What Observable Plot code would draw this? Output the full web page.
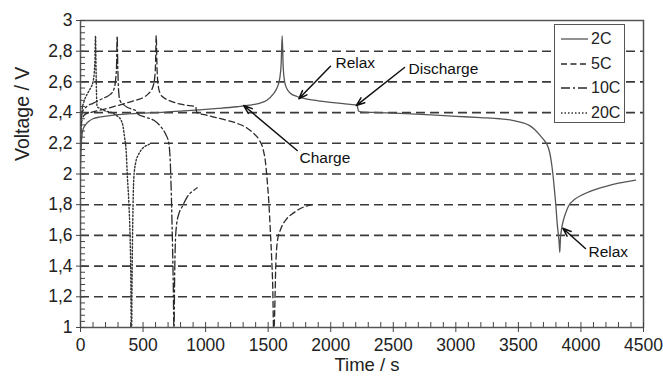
<!DOCTYPE html>
<html><head><meta charset="utf-8">
<script src="https://cdn.jsdelivr.net/npm/d3@7"></script>
<script src="https://cdn.jsdelivr.net/npm/@observablehq/plot@0.6"></script>
<style>
body{margin:0;background:#fff;font-family:"Liberation Sans",Arial,sans-serif;}
#wrap{position:relative;width:663px;height:380px;}
#legend{position:absolute;left:554px;top:24px;width:69px;height:97px;border:1.5px solid #555;background:#fff;}
.row{position:absolute;left:6px;height:20px;display:flex;align-items:center;font-size:16px;color:#222;}
.row svg{margin-right:3px;}
</style>
</head><body>
<div id="wrap"></div>
<script>
// ---- data (time in s, voltage in V) ----
const t2C = [0,8,20,40,70,100,160,250,360,500,650,800,950,1100,1250,1350,1430,1490,1540,1570,1592,1604,1612,1620,1632,1650,1680,1730,1800,1900,2000,2100,2200,2212,2222,2240,2400,2600,2800,3000,3200,3350,3450,3530,3590,3630,3670,3700,3730,3750,3765,3777,3790,3800,3810,3820,3826,3831,3836,3845,3860,3880,3900,3950,4000,4100,4200,4300,4436];
const v2C = [2.05,2.22,2.29,2.32,2.345,2.36,2.372,2.382,2.39,2.396,2.402,2.41,2.418,2.427,2.438,2.448,2.46,2.48,2.52,2.56,2.62,2.72,2.90,2.70,2.60,2.555,2.525,2.505,2.49,2.477,2.467,2.458,2.45,2.445,2.41,2.405,2.40,2.393,2.385,2.376,2.367,2.36,2.35,2.335,2.315,2.29,2.255,2.225,2.19,2.14,2.07,1.99,1.88,1.79,1.68,1.60,1.55,1.49,1.58,1.64,1.70,1.75,1.79,1.835,1.86,1.895,1.92,1.94,1.96];

const t5C = [0,8,20,40,100,200,293,400,460,506,545,575,592,600,605,612,622,640,670,720,800,870,920,930,1000,1120,1250,1330,1390,1430,1460,1478,1492,1505,1518,1528,1537,1543,1548,1552,1560,1575,1600,1650,1700,1770,1850];
const v5C = [2.25,2.33,2.37,2.39,2.405,2.425,2.445,2.47,2.485,2.50,2.525,2.56,2.62,2.72,2.90,2.68,2.57,2.52,2.495,2.475,2.455,2.445,2.44,2.40,2.385,2.36,2.33,2.30,2.26,2.22,2.16,2.08,1.96,1.82,1.62,1.45,1.25,1.0,1.0,1.1,1.38,1.57,1.64,1.71,1.745,1.78,1.80];

const t10C = [0,6,13,50,100,146,200,240,266,280,288,293,298,304,315,340,373,420,450,460,520,586,640,680,706,719,728,735,742,746,748,752,758,768,786,815,860,900,933];
const v10C = [2.25,2.34,2.40,2.44,2.46,2.48,2.50,2.52,2.55,2.61,2.70,2.90,2.70,2.55,2.48,2.455,2.435,2.42,2.41,2.39,2.37,2.35,2.31,2.26,2.20,2.05,1.80,1.55,1.25,1.0,1.0,1.3,1.55,1.67,1.74,1.79,1.86,1.89,1.91];

const t20C = [0,5,13,27,53,80,100,110,116,120,124,128,133,160,200,250,280,306,325,340,352,365,375,386,396,402,406,409,412,418,426,440,466,500,540,565];
const v20C = [2.15,2.33,2.42,2.47,2.52,2.56,2.60,2.66,2.75,2.90,2.70,2.52,2.44,2.425,2.41,2.40,2.385,2.37,2.35,2.31,2.24,2.15,1.98,1.82,1.60,1.35,1.0,1.0,1.3,1.7,1.97,2.07,2.13,2.17,2.19,2.20];

const seriesNames = ["2C","5C","10C","20C"];
const xTickValues = [0,500,1000,1500,2000,2500,3000,3500,4000,4500];
const xTickLabels = ["0","500","1000","1500","2000","2500","3000","3500","4000","4500"];
const yTickValues = [1,1.2,1.4,1.6,1.8,2,2.2,2.4,2.6,2.8,3];
const yTickLabels = ["1","1,2","1,4","1,6","1,8","2","2,2","2,4","2,6","2,8","3"];
const yGridValues = [1.2,1.4,1.6,1.8,2,2.2,2.4,2.6,2.8];

const annLabels = ["Relax","Discharge","Charge","Relax"];
const annTextX = [2038,2622,1750,4060];
const annTextY = [2.72,2.687,2.107,1.489];
const annFromX = [1998,2590,1732,4036];
const annFromY = [2.702,2.694,2.153,1.515];
const annToX = [1745,2204,1305,3855];
const annToY = [2.49,2.446,2.446,1.647];

// ---- build tables ----
const toRows = (ts, vs) => ts.map((t,i) => ({t, v: vs[i]}));
const series = [
  {name: seriesNames[0], rows: toRows(t2C, v2C), stroke: "#555", dash: null, w: 1.3},
  {name: seriesNames[1], rows: toRows(t5C, v5C), stroke: "#2a2a2a", dash: "6,3.5", w: 1.3},
  {name: seriesNames[2], rows: toRows(t10C, v10C), stroke: "#2a2a2a", dash: "9,3,2,3", w: 1.3},
  {name: seriesNames[3], rows: toRows(t20C, v20C), stroke: "#333", dash: "1.5,2", w: 1.4}
];
const ann = annLabels.map((label,i) => ({label, tx: annTextX[i], ty: annTextY[i], x1: annFromX[i], y1: annFromY[i], x2: annToX[i], y2: annToY[i]}));
const xMinor = d3.range(0, 4501, 100);
const yMinor = d3.range(0, 51).map(i => 1 + i * 0.04);

const chart = Plot.plot({
  width: 663, height: 380,
  marginLeft: 80, marginRight: 20, marginTop: 20, marginBottom: 53,
  x: {domain: [0, 4500]},
  y: {domain: [1, 3]},
  style: {fontFamily: "Liberation Sans, Arial, sans-serif", background: "#fff", color: "#222"},
  marks: [
    Plot.ruleY(yGridValues, {stroke: "#3a3a3a", strokeWidth: 1.6, strokeDasharray: "9,5"}),
    ...series.map(s => Plot.line(s.rows, {x: "t", y: "v", stroke: s.stroke, strokeWidth: s.w, strokeDasharray: s.dash, curve: "monotone-x", clip: true})),
    Plot.arrow(ann, {x1: "x1", y1: "y1", x2: "x2", y2: "y2", stroke: "#111", strokeWidth: 1.5, headLength: 9, headAngle: 40}),
    Plot.text(ann, {x: "tx", y: "ty", text: "label", textAnchor: "start", fontSize: 15.5, fill: "#111"}),
    Plot.frame({stroke: "#555", strokeWidth: 1.5}),
    Plot.axisX(xMinor, {tickSize: -5, fill: "none", label: null, stroke: "#444"}),
    Plot.axisX(xTickValues, {tickSize: 5, tickPadding: 6, fontSize: 17.5, label: null, stroke: "#444", fill: "#222",
      tickFormat: d => xTickLabels[xTickValues.indexOf(d)]}),
    Plot.axisY(yMinor, {tickSize: -5, fill: "none", label: null, stroke: "#444"}),
    Plot.axisY(yTickValues, {tickSize: 4, tickPadding: 4, fontSize: 17.5, label: null, stroke: "#444", fill: "#222",
      tickFormat: d => yTickLabels[yTickValues.indexOf(d)]}),
    Plot.text(["Time / s"], {text: d => d, frameAnchor: "bottom", dy: 43, dx: 5, fontSize: 18.5, fill: "#222"}),
    Plot.text(["Voltage / V"], {text: d => d, frameAnchor: "left", rotate: -90, dx: -58, dy: -13, fontSize: 19.5, fill: "#222"})
  ]
});
const wrap = document.getElementById("wrap");
wrap.appendChild(chart);

// ---- legend ----
const legend = document.createElement("div");
legend.id = "legend";
const rowTops = [4, 29, 53, 78];
series.forEach((s, i) => {
  const row = document.createElement("div");
  row.className = "row";
  row.style.top = rowTops[i] + "px";
  const ns = "http://www.w3.org/2000/svg";
  const svg = document.createElementNS(ns, "svg");
  svg.setAttribute("width", "27"); svg.setAttribute("height", "4");
  const ln = document.createElementNS(ns, "line");
  ln.setAttribute("x1", "0"); ln.setAttribute("x2", "27"); ln.setAttribute("y1", "2"); ln.setAttribute("y2", "2");
  ln.setAttribute("stroke", s.stroke); ln.setAttribute("stroke-width", s.w);
  if (s.dash) ln.setAttribute("stroke-dasharray", s.dash);
  svg.appendChild(ln);
  row.appendChild(svg);
  const sp = document.createElement("span");
  sp.textContent = s.name;
  row.appendChild(sp);
  legend.appendChild(row);
});
wrap.appendChild(legend);
</script>
</body></html>
